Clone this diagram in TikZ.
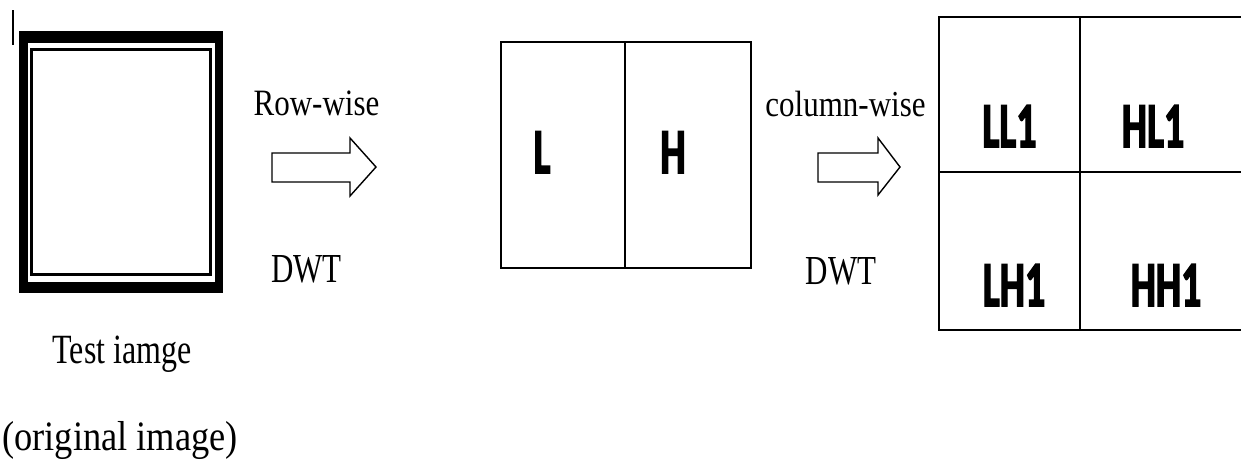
\documentclass[tikz,border=0pt]{standalone}
\usepackage{fontspec}
\setmainfont{Liberation Serif}
\newfontfamily\bandfont{Carlito}[BoldFeatures={FakeBold=3}]
\usetikzlibrary{positioning}

% stretch a label vertically
\newcommand\tallsc[2]{\scalebox{1}[#1]{#2}}

\begin{document}
\begin{tikzpicture}[
  x=0.5pt, y=0.5pt,
  caption/.style={anchor=base, inner sep=0pt, font=\fontsize{15.5}{18}\selectfont},
  band/.style={anchor=base, inner sep=0pt, font=\bandfont\bfseries\fontsize{20}{22}\selectfont},
  cell/.style={draw, line width=0.9pt, inner sep=0pt, outer sep=0pt},
  hollow/.style={draw, line width=0.7pt, fill=white, line join=miter}
]
  \useasboundingbox (0,0) rectangle (1241,463);

  % text cursor left over at the top
  \draw[line width=1pt] (13,453) -- (13,418);

  % test image with its double frame
  \node[fill=black, inner sep=0pt, minimum width=102pt, minimum height=131pt] (testimg) at (121,301) {};
  \node[fill=white, inner sep=0pt, minimum width=93.5pt, minimum height=119.5pt] (testgap) at (testimg) {};
  \node[draw, line width=1.75pt, inner sep=0pt, minimum width=89.5pt, minimum height=112.5pt] (testin) at (testimg) {};

  \node[caption, font=\fontsize{16}{18}\selectfont] (testcap) at (122,100) {\tallsc{1.3}{Test iamge}};
  \node[caption, font=\fontsize{18.2}{20}\selectfont] (origcap) at (120,13) {\tallsc{1.15}{(original image)}};

  % row-wise step
  \node[caption] (rowcap) at (316.5,348) {\tallsc{1.2}{Row-wise}};
  \draw[hollow] (272,310) -- (350,310) -- (350,325) -- (376,296)
    -- (350,267) -- (350,281) -- (272,281) -- cycle;
  \node[caption] (rowdwt) at (306.5,181) {\tallsc{1.33}{DWT}};

  % L | H after the row transform
  \node[cell, minimum width=62pt, minimum height=113pt] (lcell) at (563,308) {};
  \node[cell, minimum width=63pt, minimum height=113pt, right=0pt of lcell] (hcell) {};
  \node[band] (lband) at (542,290) {\tallsc{1.6}{L}};
  \node[band] (hband) at (673,290) {\tallsc{1.6}{H}};

  % column-wise step
  \node[caption] (colcap) at (845.5,347) {\tallsc{1.18}{column-wise}};
  \draw[hollow] (818,310) -- (878,310) -- (878,325) -- (900,296)
    -- (878,268) -- (878,281) -- (818,281) -- cycle;
  \node[caption] (coldwt) at (841,179) {\tallsc{1.33}{DWT}};

  % four sub-bands
  \node[cell, minimum width=70.5pt, minimum height=77.5pt] (llcell) at (1009.5,368.5) {};
  \node[cell, minimum width=82pt, minimum height=77.5pt, right=0pt of llcell] (hlcell) {};
  \node[cell, minimum width=70.5pt, minimum height=79pt, below=0pt of llcell] (lhcell) {};
  \node[cell, minimum width=82pt, minimum height=79pt, below=0pt of hlcell] (hhcell) {};

  \node[band] (llband) at (1009.5,316) {\tallsc{1.6}{LL1}};
  \node[band] (hlband) at (1153,316) {\tallsc{1.6}{HL1}};
  \node[band] (lhband) at (1014,157) {\tallsc{1.6}{LH1}};
  \node[band] (hhband) at (1166,157) {\tallsc{1.6}{HH1}};
\end{tikzpicture}
\end{document}
